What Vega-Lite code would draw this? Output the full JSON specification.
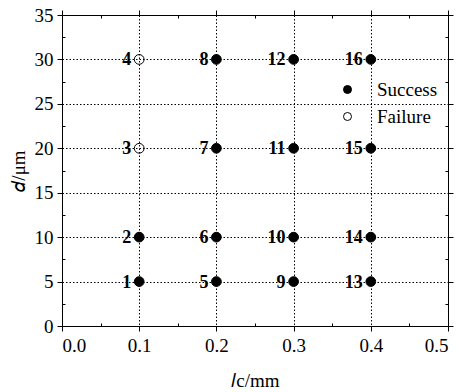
{
  "$schema": "https://vega.github.io/schema/vega-lite/v6.json",
  "width": 386,
  "height": 311,
  "autosize": {"type": "none"},
  "padding": {"left": 62, "top": 15, "right": 11, "bottom": 66},
  "background": "white",
  "data": {"values": [
    {"id": "1", "lc": 0.1, "d": 5, "status": "Success"},
    {"id": "2", "lc": 0.1, "d": 10, "status": "Success"},
    {"id": "3", "lc": 0.1, "d": 20, "status": "Failure"},
    {"id": "4", "lc": 0.1, "d": 30, "status": "Failure"},
    {"id": "5", "lc": 0.2, "d": 5, "status": "Success"},
    {"id": "6", "lc": 0.2, "d": 10, "status": "Success"},
    {"id": "7", "lc": 0.2, "d": 20, "status": "Success"},
    {"id": "8", "lc": 0.2, "d": 30, "status": "Success"},
    {"id": "9", "lc": 0.3, "d": 5, "status": "Success"},
    {"id": "10", "lc": 0.3, "d": 10, "status": "Success"},
    {"id": "11", "lc": 0.3, "d": 20, "status": "Success"},
    {"id": "12", "lc": 0.3, "d": 30, "status": "Success"},
    {"id": "13", "lc": 0.4, "d": 5, "status": "Success"},
    {"id": "14", "lc": 0.4, "d": 10, "status": "Success"},
    {"id": "15", "lc": 0.4, "d": 20, "status": "Success"},
    {"id": "16", "lc": 0.4, "d": 30, "status": "Success"}
  ]},
  "encoding": {
    "x": {"field": "lc", "type": "quantitative", "scale": {"domain": [0, 0.5], "nice": false, "zero": false}},
    "y": {"field": "d", "type": "quantitative", "scale": {"domain": [0, 35], "nice": false}}
  },
  "layer": [
    {
      "mark": {"type": "point", "shape": "circle", "filled": true, "size": 95, "stroke": "black", "strokeWidth": 1, "opacity": 1},
      "encoding": {
        "x": {"field": "lc", "type": "quantitative", "axis": {"orient": "bottom", "values": [0, 0.1, 0.2, 0.3, 0.4, 0.5], "format": ".1f", "tickSize": 5, "labelPadding": 5, "grid": true, "title": "𝑙c/mm", "titlePadding": 16, "labelFont": "Liberation Serif", "labelFontSize": 19, "titleFont": "Liberation Serif", "titleFontSize": 19}},
        "y": {"field": "d", "type": "quantitative", "axis": {"orient": "left", "values": [0, 5, 10, 15, 20, 25, 30, 35], "tickSize": 5, "labelPadding": 4, "grid": true, "title": "𝑑/μm", "titlePadding": 6, "labelFont": "Liberation Serif", "labelFontSize": 19, "titleFont": "Liberation Serif", "titleFontSize": 19}},
        "fill": {"field": "status", "type": "nominal", "scale": {"domain": ["Success", "Failure"], "range": ["black", "transparent"]}, "legend": {"title": null}}
      }
    },
    {
      "mark": {"type": "point", "opacity": 0},
      "encoding": {
        "x": {"field": "lc", "type": "quantitative", "axis": {"orient": "bottom", "values": [0.05, 0.15, 0.25, 0.35, 0.45], "tickSize": -3, "labels": false, "domain": false, "grid": false, "title": null}},
        "y": {"field": "d", "type": "quantitative", "axis": {"orient": "left", "values": [2.5, 7.5, 12.5, 17.5, 22.5, 27.5, 32.5], "tickSize": -3, "labels": false, "domain": false, "grid": false, "title": null}}
      }
    },
    {
      "mark": {"type": "point", "opacity": 0},
      "encoding": {
        "x": {"field": "lc", "type": "quantitative", "axis": {"orient": "top", "values": [0, 0.1, 0.2, 0.3, 0.4, 0.5], "tickSize": 5, "labels": false, "domain": true, "grid": false, "title": null}},
        "y": {"field": "d", "type": "quantitative", "axis": {"orient": "right", "values": [0, 5, 10, 15, 20, 25, 30, 35], "tickSize": 5, "labels": false, "domain": true, "grid": false, "title": null}}
      }
    },
    {
      "mark": {"type": "point", "opacity": 0},
      "encoding": {
        "x": {"field": "lc", "type": "quantitative", "axis": {"orient": "top", "values": [0.05, 0.15, 0.25, 0.35, 0.45], "tickSize": -3, "labels": false, "domain": false, "grid": false, "title": null}},
        "y": {"field": "d", "type": "quantitative", "axis": {"orient": "right", "values": [2.5, 7.5, 12.5, 17.5, 22.5, 27.5, 32.5], "tickSize": -3, "labels": false, "domain": false, "grid": false, "title": null}}
      }
    },
    {
      "mark": {"type": "text", "align": "right", "baseline": "middle", "dx": -8, "dy": 1, "font": "Liberation Serif", "fontWeight": "bold", "fontSize": 18, "color": "black"},
      "encoding": {
        "x": {"field": "lc", "type": "quantitative", "axis": null},
        "y": {"field": "d", "type": "quantitative", "axis": null},
        "text": {"field": "id"}
      }
    }
  ],
  "resolve": {"axis": {"x": "independent", "y": "independent"}},
  "config": {
    "font": "Liberation Serif",
    "view": {"stroke": null},
    "style": {
      "guide-label": {"font": "Liberation Serif", "fontSize": 19, "fill": "black"},
      "guide-title": {"font": "Liberation Serif", "fontSize": 19, "fill": "black", "fontWeight": "normal"}
    },
    "axis": {
      "labelFont": "Liberation Serif", "labelFontSize": 19, "labelColor": "black",
      "titleFont": "Liberation Serif", "titleFontSize": 19, "titleColor": "black", "titleFontWeight": "normal",
      "domainColor": "black", "domainWidth": 1, "tickColor": "black", "tickWidth": 1,
      "gridColor": "black", "gridDash": [1.5, 2], "gridWidth": 1, "gridOpacity": 1
    },
    "legend": {
      "orient": "none", "legendX": 276, "legendY": 65,
      "labelFont": "Liberation Serif", "labelFontSize": 19, "labelColor": "black",
      "symbolType": "circle", "symbolSize": 64, "symbolStrokeColor": "black", "symbolStrokeWidth": 1,
      "labelOffset": 20, "rowPadding": 7, "padding": 0
    }
  }
}
